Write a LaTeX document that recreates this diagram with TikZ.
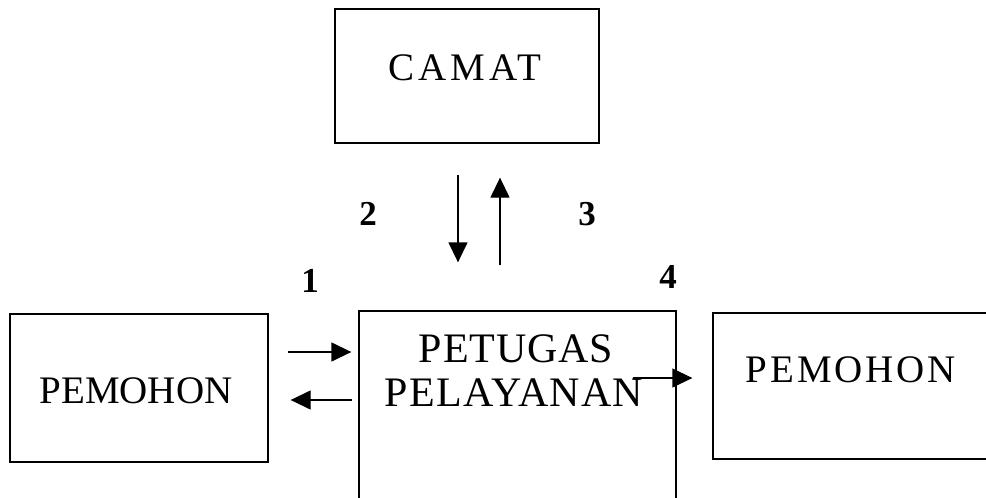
\documentclass[tikz,border=0pt]{standalone}
\usepackage{fontspec}
\setmainfont{Liberation Serif}
\usetikzlibrary{arrows.meta,calc}
\begin{document}
\begin{tikzpicture}[x=1pt,y=-1pt,
  box/.style={draw,line width=1.3pt,inner sep=0pt},
  lbl/.style={anchor=base,inner sep=0pt,font=\fontsize{39}{44}\selectfont},
  biglbl/.style={anchor=base,inner sep=0pt,font=\fontsize{42}{44}\selectfont},
  num/.style={anchor=base,inner sep=0pt,font=\bfseries\fontsize{35}{40}\selectfont},
  arr/.style={line width=1.3pt,-{Triangle[length=20pt,width=19pt]}}]
\clip (0,0) rectangle (986,498);
\fill[white] (0,0) rectangle (986,498);
% boxes
\node[box,minimum width=264pt,minimum height=134pt] (camat) at (467,76) {};
\node[box,minimum width=258pt,minimum height=148pt] (left) at (139,388) {};
\node[box,minimum width=317pt,minimum height=209pt] (pet) at (517.5,415.5) {};
\node[box,minimum width=287pt,minimum height=146pt] (right) at (856.5,386) {};
% texts
\node[lbl] (tcamat) at (465,80) {\addfontfeatures{LetterSpace=10}CAMAT};
\node[lbl] (tleft) at (136,403) {PEMOHON};
\node[biglbl] (tpet1) at (516,362) {\addfontfeatures{LetterSpace=2}PETUGAS};
\node[biglbl] (tpet2) at (514,406) {\addfontfeatures{LetterSpace=3}PELAYANAN};
\node[lbl] (tright) at (851,382) {\addfontfeatures{LetterSpace=7.5}PEMOHON};
% numbers
\node[num] (n1) at (310,292) {1};
\node[num] (n2) at (368,225) {2};
\node[num] (n3) at (587,225) {3};
\node[num] (n4) at (668,288) {4};
% arrows
\coordinate (a1s) at (288,352);
\coordinate (a2s) at (352,400);
\coordinate (dS) at (458,175);
\coordinate (uS) at (500,265);
\coordinate (a4s) at (633,378);
\draw[arr,shorten >=7pt] (a1s) -- (a1s -| pet.west);
\draw[arr,shorten >=22pt] (a2s) -- (a2s -| left.east);
\draw[arr,shorten >=48pt] (dS) -- (dS |- pet.north);
\draw[arr,shorten >=34pt] (uS) -- (uS |- camat.south);
\draw[arr,shorten >=20pt] (a4s) -- (a4s -| right.west);
\end{tikzpicture}
\end{document}
